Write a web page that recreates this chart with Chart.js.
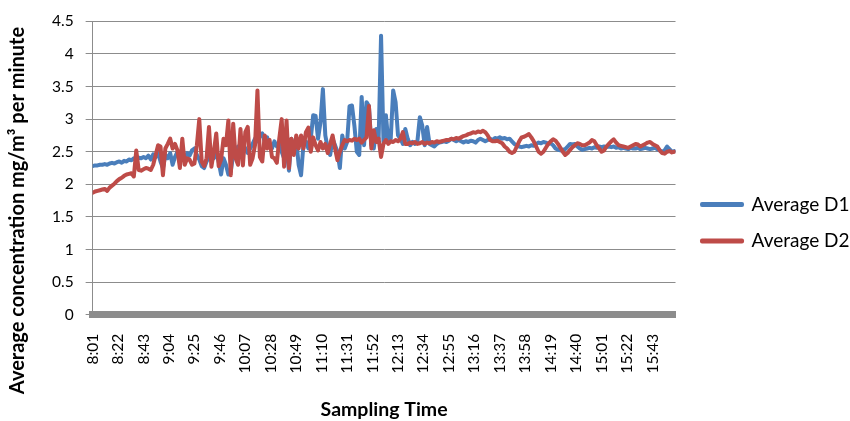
<!DOCTYPE html>
<html>
<head>
<meta charset="utf-8">
<script src="https://cdn.jsdelivr.net/npm/chart.js@4"></script>
<style>
  html, body { margin: 0; padding: 0; background: #fff; }
  #wrap { width: 850px; height: 421px; }
</style>
</head>
<body>
<div id="wrap"><canvas id="chart"></canvas></div>
<script>
// minutes since 8:01 between two samples, and between two axis labels
const SAMPLE_STEP = 2;
const LABEL_STEP = 21;

const timeLabels = ["8:01", "8:22", "8:43", "9:04", "9:25", "9:46", "10:07", "10:28",
  "10:49", "11:10", "11:31", "11:52", "12:13", "12:34", "12:55", "13:16", "13:37",
  "13:58", "14:19", "14:40", "15:01", "15:22", "15:43"];

const yTicks = [0, 0.5, 1, 1.5, 2, 2.5, 3, 3.5, 4, 4.5];

const seriesNames = ["Average D1", "Average D2"];

const averageD1 = [
  2.28, 2.29, 2.29, 2.30, 2.30, 2.31, 2.30, 2.32, 2.33, 2.32,
  2.34, 2.35, 2.33, 2.36, 2.35, 2.38, 2.37, 2.40, 2.36, 2.41,
  2.40, 2.42, 2.40, 2.44, 2.38, 2.46, 2.42, 2.48, 2.35, 2.25,
  2.45, 2.40, 2.48, 2.30, 2.42, 2.50, 2.38, 2.45, 2.40, 2.48,
  2.44, 2.52, 2.55, 2.45, 2.38, 2.28, 2.25, 2.35, 2.42, 2.46,
  2.40, 2.48, 2.35, 2.15, 2.40, 2.30, 2.15, 2.20, 2.45, 2.52,
  2.58, 2.50, 2.62, 2.55, 2.48, 2.55, 2.62, 2.70, 2.66, 2.74,
  2.78, 2.65, 2.72, 2.60, 2.55, 2.66, 2.58, 2.62, 2.50, 2.40,
  2.55, 2.21, 2.70, 2.55, 2.68, 2.30, 2.14, 2.62, 2.66, 2.55,
  2.70, 3.06, 3.05, 2.70, 2.95, 3.46, 2.75, 2.55, 2.45, 2.70,
  2.60, 2.50, 2.25, 2.75, 2.55, 2.65, 3.20, 3.21, 2.90, 2.50,
  2.45, 3.34, 2.60, 3.26, 3.20, 2.60, 2.55, 2.85, 2.70, 4.28,
  2.65, 3.06, 2.65, 2.70, 3.44, 3.26, 2.75, 2.70, 2.62, 2.85,
  2.70, 2.60, 2.65, 2.62, 2.66, 3.03, 2.90, 2.60, 2.88, 2.62,
  2.60, 2.58, 2.62, 2.64, 2.65, 2.66, 2.65, 2.67, 2.70, 2.68,
  2.66, 2.68, 2.66, 2.64, 2.66, 2.65, 2.67, 2.66, 2.64, 2.68,
  2.70, 2.68, 2.66, 2.68, 2.70, 2.68, 2.71, 2.70, 2.72, 2.70,
  2.71, 2.69, 2.70, 2.66, 2.62, 2.60, 2.58, 2.57, 2.58, 2.59,
  2.58, 2.60, 2.59, 2.62, 2.64, 2.63, 2.65, 2.64, 2.62, 2.63,
  2.60, 2.55, 2.53, 2.52, 2.53, 2.54, 2.58, 2.62, 2.61, 2.62,
  2.58, 2.55, 2.53, 2.54, 2.55, 2.56, 2.55, 2.57, 2.56, 2.58,
  2.57, 2.58, 2.57, 2.58, 2.57, 2.58, 2.56, 2.57, 2.55, 2.56,
  2.55, 2.54, 2.56, 2.55, 2.55, 2.56, 2.54, 2.55, 2.56, 2.55,
  2.54, 2.55, 2.56, 2.54, 2.52, 2.50, 2.52, 2.58, 2.54, 2.50,
  2.51
];

const averageD2 = [
  1.87, 1.89, 1.90, 1.91, 1.92, 1.93, 1.90, 1.95, 1.98, 2.01,
  2.05, 2.08, 2.10, 2.13, 2.15, 2.16, 2.17, 2.12, 2.52, 2.22,
  2.21, 2.23, 2.25, 2.24, 2.22, 2.30, 2.45, 2.60, 2.58, 2.14,
  2.55, 2.62, 2.70, 2.55, 2.62, 2.52, 2.25, 2.70, 2.30, 2.40,
  2.38, 2.30, 2.32, 2.60, 3.00, 2.35, 2.28, 2.40, 2.88, 2.27,
  2.50, 2.78, 2.28, 2.38, 2.70, 2.60, 2.98, 2.14, 2.93, 2.40,
  2.30, 2.85, 2.29, 2.80, 2.88, 2.30, 2.40, 2.60, 3.44, 2.42,
  2.35, 2.75, 2.55, 2.68, 2.42, 2.40, 2.33, 2.70, 3.00, 2.27,
  2.98, 2.25, 2.70, 2.45, 2.75, 2.55, 2.75, 2.55, 2.80, 2.87,
  2.50, 2.72, 2.60, 2.52, 2.65, 2.55, 2.62, 2.48, 2.62, 2.75,
  2.55, 2.37, 2.50, 2.60, 2.68, 2.66, 2.68, 2.67, 2.70, 2.68,
  2.70, 2.64, 2.68, 2.72, 3.20, 2.55, 2.83, 2.65, 2.70, 2.42,
  2.62, 2.68, 2.62, 2.66, 2.65, 2.68, 2.66, 2.70, 2.80, 2.62,
  2.62, 2.64, 2.63, 2.65, 2.62, 2.63, 2.65, 2.62, 2.64, 2.63,
  2.65, 2.64, 2.66, 2.65, 2.66, 2.67, 2.68, 2.68, 2.70, 2.69,
  2.71, 2.70, 2.72, 2.74, 2.75, 2.77, 2.78, 2.80, 2.79, 2.81,
  2.80, 2.82, 2.80, 2.75, 2.68, 2.66, 2.66, 2.67, 2.65, 2.63,
  2.58, 2.55, 2.50, 2.48, 2.50, 2.58, 2.66, 2.72, 2.73, 2.75,
  2.77, 2.72, 2.66, 2.58, 2.50, 2.47, 2.50, 2.56, 2.62, 2.66,
  2.69, 2.67, 2.62, 2.56, 2.50, 2.45, 2.48, 2.53, 2.57, 2.60,
  2.63, 2.62, 2.60, 2.60, 2.62, 2.64, 2.68, 2.66, 2.60, 2.55,
  2.50, 2.52, 2.58, 2.62, 2.66, 2.69, 2.64, 2.60, 2.59, 2.58,
  2.57, 2.56, 2.58, 2.60, 2.62, 2.61, 2.58, 2.60, 2.62, 2.64,
  2.65, 2.62, 2.60, 2.58, 2.52, 2.48, 2.47, 2.50, 2.51, 2.49,
  2.50
];

const BLUE = "#4a7ebb";
const RED = "#be4b48";
const GRID = "#8c8c8c";
const FONT = "Lato, 'Open Sans', sans-serif";

const toPoints = (values) => values.map((v, i) => ({ x: i * SAMPLE_STEP, y: v }));

const lineDataset = (label, values, color, order) => ({
  label,
  data: toPoints(values),
  borderColor: color,
  backgroundColor: color,
  borderWidth: 4,
  borderJoinStyle: "round",
  borderCapStyle: "round",
  pointRadius: 0,
  tension: 0,
  order,
});

new Chart(document.getElementById("chart"), {
  type: "line",
  data: {
    datasets: [
      lineDataset(seriesNames[0], averageD1, BLUE, 1),
      lineDataset(seriesNames[1], averageD2, RED, 0),
    ],
  },
  options: {
    responsive: true,
    maintainAspectRatio: false,
    animation: false,
    layout: { padding: { top: 0, right: -9.5, bottom: 0, left: 0 } },
    plugins: {
      tooltip: { enabled: false },
      // y axis title, centred on the whole height like the original
      title: {
        display: true,
        position: "left",
        text: "Average concentration mg/m\u00b3 per minute",
        color: "#000",
        font: { family: FONT, size: 20, weight: "bold" },
        padding: { top: 6, bottom: 10 },
      },
      legend: {
        position: "right",
        maxWidth: 240,
        title: { display: true, text: "", padding: { top: 22, bottom: 0 }, font: { size: 2 } },
        labels: {
          boxWidth: 40,
          boxHeight: 1,
          padding: 17.5,
          color: "#000",
          font: { family: FONT, size: 19 },
          sort: (a, b) => a.datasetIndex - b.datasetIndex,
        },
      },
    },
    scales: {
      x: {
        type: "linear",
        min: 0,
        max: 481,
        afterBuildTicks: (axis) => {
          axis.ticks = timeLabels.map((t, i) => ({ value: i * LABEL_STEP }));
        },
        ticks: {
          autoSkip: false,
          minRotation: 90,
          maxRotation: 90,
          padding: 11,
          color: "#000",
          font: { family: FONT, size: 15.5 },
          callback: (value, index) => timeLabels[index],
        },
        grid: { display: false },
        border: { color: GRID, width: 7 },
        title: {
          display: true,
          text: "Sampling Time",
          color: "#000",
          font: { family: FONT, size: 19.5, weight: "bold" },
          padding: { top: 13, bottom: 0 },
        },
      },
      y: {
        min: yTicks[0],
        max: yTicks[yTicks.length - 1],
        afterBuildTicks: (axis) => {
          axis.ticks = yTicks.map((v) => ({ value: v }));
        },
        ticks: {
          padding: 12,
          color: "#000",
          font: { family: FONT, size: 15.5 },
          callback: (value, index) => String(yTicks[index]),
        },
        grid: { color: GRID, tickLength: 7 },
        border: { color: GRID },
      },
      gap: {
        axis: "y",
        position: "right",
        display: true,
        ticks: { display: false },
        grid: { display: false },
        border: { display: false },
        afterFit: (scale) => {
          scale.width = 9;
        },
      },
    },
  },
});
</script>
</body>
</html>
